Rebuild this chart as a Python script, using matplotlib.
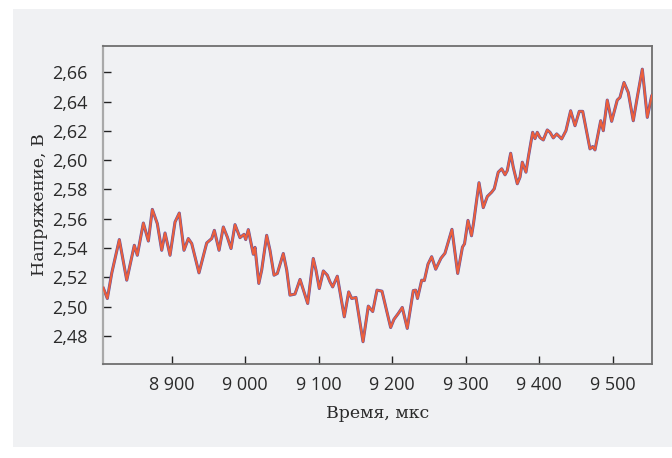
import matplotlib
matplotlib.use("Agg")
import matplotlib.pyplot as plt
from matplotlib.patches import Rectangle
from matplotlib.ticker import FuncFormatter, FixedLocator

# time, µs
time_us = [8806.5, 8812.4, 8818.4, 8828.7, 8838.8, 8849.1, 8853.2, 8861.4, 8868.2, 8873.6,
           8880.4, 8886.4, 8890.9, 8897.7, 8904.5, 8910.3, 8916.7, 8922.6, 8927.2, 8937.1,
           8947.6, 8954.4, 8958.0, 8964.4, 8970.2, 8975.6, 8980.7, 8986.1, 8992.9, 8998.4,
           9000.7, 9004.2, 9011.0, 9013.3, 9018.5, 9022.4, 9029.2, 9033.7, 9039.2, 9043.7,
           9051.8, 9056.5, 9060.9, 9067.7, 9074.6, 9085.0, 9092.6, 9096.3, 9100.8, 9106.3,
           9111.7, 9115.4, 9119.0, 9125.3, 9134.8, 9140.8, 9144.9, 9150.7, 9160.3, 9167.5,
           9173.5, 9179.3, 9186.1, 9197.9, 9202.4, 9208.3, 9213.7, 9220.5, 9228.7, 9232.0,
           9234.4, 9240.1, 9243.7, 9248.7, 9253.7, 9259.2, 9266.4, 9271.8, 9277.3, 9281.3,
           9289.1, 9295.6, 9298.4, 9303.1, 9307.9, 9310.6, 9318.1, 9323.9, 9329.4, 9335.4,
           9338.9, 9344.3, 9349.0, 9353.5, 9356.6, 9361.2, 9364.7, 9370.2, 9373.9, 9377.0,
           9382.0, 9385.2, 9391.1, 9394.3, 9397.4, 9401.1, 9405.6, 9411.0, 9414.7, 9419.2,
           9423.8, 9430.6, 9436.4, 9442.8, 9448.7, 9454.5, 9459.2, 9469.1, 9472.8, 9475.9,
           9483.7, 9487.2, 9492.6, 9498.6, 9506.2, 9509.9, 9515.4, 9521.2, 9528.0, 9533.4,
           9540.3, 9547.1, 9553.0, 9554.8]

# voltage, V
voltage_v = [2.5133, 2.5056, 2.5229, 2.5458, 2.5181, 2.5419, 2.5351, 2.5571, 2.5448, 2.5664,
             2.5567, 2.5385, 2.5503, 2.5351, 2.5578, 2.5639, 2.5385, 2.5465, 2.5431, 2.5231,
             2.5435, 2.5465, 2.5521, 2.5385, 2.5544, 2.5476, 2.5397, 2.5560, 2.5471, 2.5494,
             2.5458, 2.5526, 2.5358, 2.5405, 2.5159, 2.5249, 2.5487, 2.5385, 2.5215, 2.5227,
             2.5363, 2.5249, 2.5079, 2.5086, 2.5186, 2.5022, 2.5329, 2.5249, 2.5124, 2.5244,
             2.5215, 2.5169, 2.5135, 2.5208, 2.4931, 2.5101, 2.5056, 2.5063, 2.4761, 2.5004,
             2.4967, 2.5113, 2.5106, 2.4858, 2.4914, 2.4954, 2.4995, 2.4852, 2.5110, 2.5113,
             2.5056, 2.5181, 2.5178, 2.5290, 2.5341, 2.5256, 2.5331, 2.5365, 2.5460, 2.5528,
             2.5227, 2.5407, 2.5429, 2.5589, 2.5484, 2.5567, 2.5846, 2.5676, 2.5752, 2.5782,
             2.5805, 2.5918, 2.5941, 2.5900, 2.5929, 2.6047, 2.5952, 2.5839, 2.5884, 2.5986,
             2.5918, 2.6020, 2.6190, 2.6147, 2.6190, 2.6154, 2.6138, 2.6206, 2.6190, 2.6152,
             2.6179, 2.6145, 2.6201, 2.6337, 2.6235, 2.6333, 2.6333, 2.6077, 2.6093, 2.6070,
             2.6269, 2.6201, 2.6410, 2.6265, 2.6410, 2.6428, 2.6530, 2.6462, 2.6269, 2.6428,
             2.6621, 2.6292, 2.6439, 2.6453]

x_ticks = [8900, 9000, 9100, 9200, 9300, 9400, 9500]
y_ticks = [2.48, 2.50, 2.52, 2.54, 2.56, 2.58, 2.60, 2.62, 2.64, 2.66]

x_label = "Время, мкс"
y_label = "Напряжение, В"

BG = "#f0f1f3"
W, H = 672, 458

fig = plt.figure(figsize=(W / 100, H / 100), dpi=100, facecolor="white")
fig.patches.append(Rectangle((13 / W, 11 / H), 1 - 13 / W, 1 - 20 / H, transform=fig.transFigure,
                             facecolor=BG, edgecolor="none", zorder=-10))

ax = fig.add_axes([103 / W, 1 - 364 / H, (652.3 - 103) / W, (364 - 46) / H])
ax.set_facecolor(BG)

ax.plot(time_us, voltage_v, color="#5b55a6", lw=2.2, solid_joinstyle="round",
        solid_capstyle="round", zorder=2)
ax.plot(time_us, voltage_v, color="#ec5f3c", lw=1.5, solid_joinstyle="round",
        solid_capstyle="round", zorder=3)

ax.set_xlim(8806.5, 9553.9)
ax.set_ylim(2.4609, 2.6779)

tick_font = ["Open Sans", "DejaVu Sans"]
ax.xaxis.set_major_locator(FixedLocator(x_ticks))
ax.yaxis.set_major_locator(FixedLocator(y_ticks))
ax.xaxis.set_major_formatter(FuncFormatter(lambda v, p: f"{int(v):,}".replace(",", " ")))
ax.yaxis.set_major_formatter(FuncFormatter(lambda v, p: f"{v:.2f}".replace(".", ",")))

ax.tick_params(axis="both", direction="in", length=6, width=1.0, color="#222222",
               labelsize=13, labelcolor="#2a2a2a")
ax.tick_params(axis="y", pad=11)
ax.tick_params(axis="x", pad=9)
for lab in ax.get_xticklabels() + ax.get_yticklabels():
    lab.set_fontfamily(tick_font)

for side in ["top", "right", "bottom"]:
    ax.spines[side].set_color("#6f6f6f")
    ax.spines[side].set_linewidth(1.3)
ax.spines["left"].set_color("#a9a9a9")
ax.spines["left"].set_linewidth(1.6)

label_font = ["DejaVu Serif"]
fig.text(378 / W, 1 - 413 / H, x_label, ha="center", va="center", fontsize=12.5,
         family=label_font, color="#2a2a2a")
fig.text(40 / W, 1 - 205 / H, y_label, ha="center", va="center", rotation=90,
         fontsize=12.5, family=label_font, color="#2a2a2a")

fig.savefig("out.png", dpi=100, facecolor="white")
